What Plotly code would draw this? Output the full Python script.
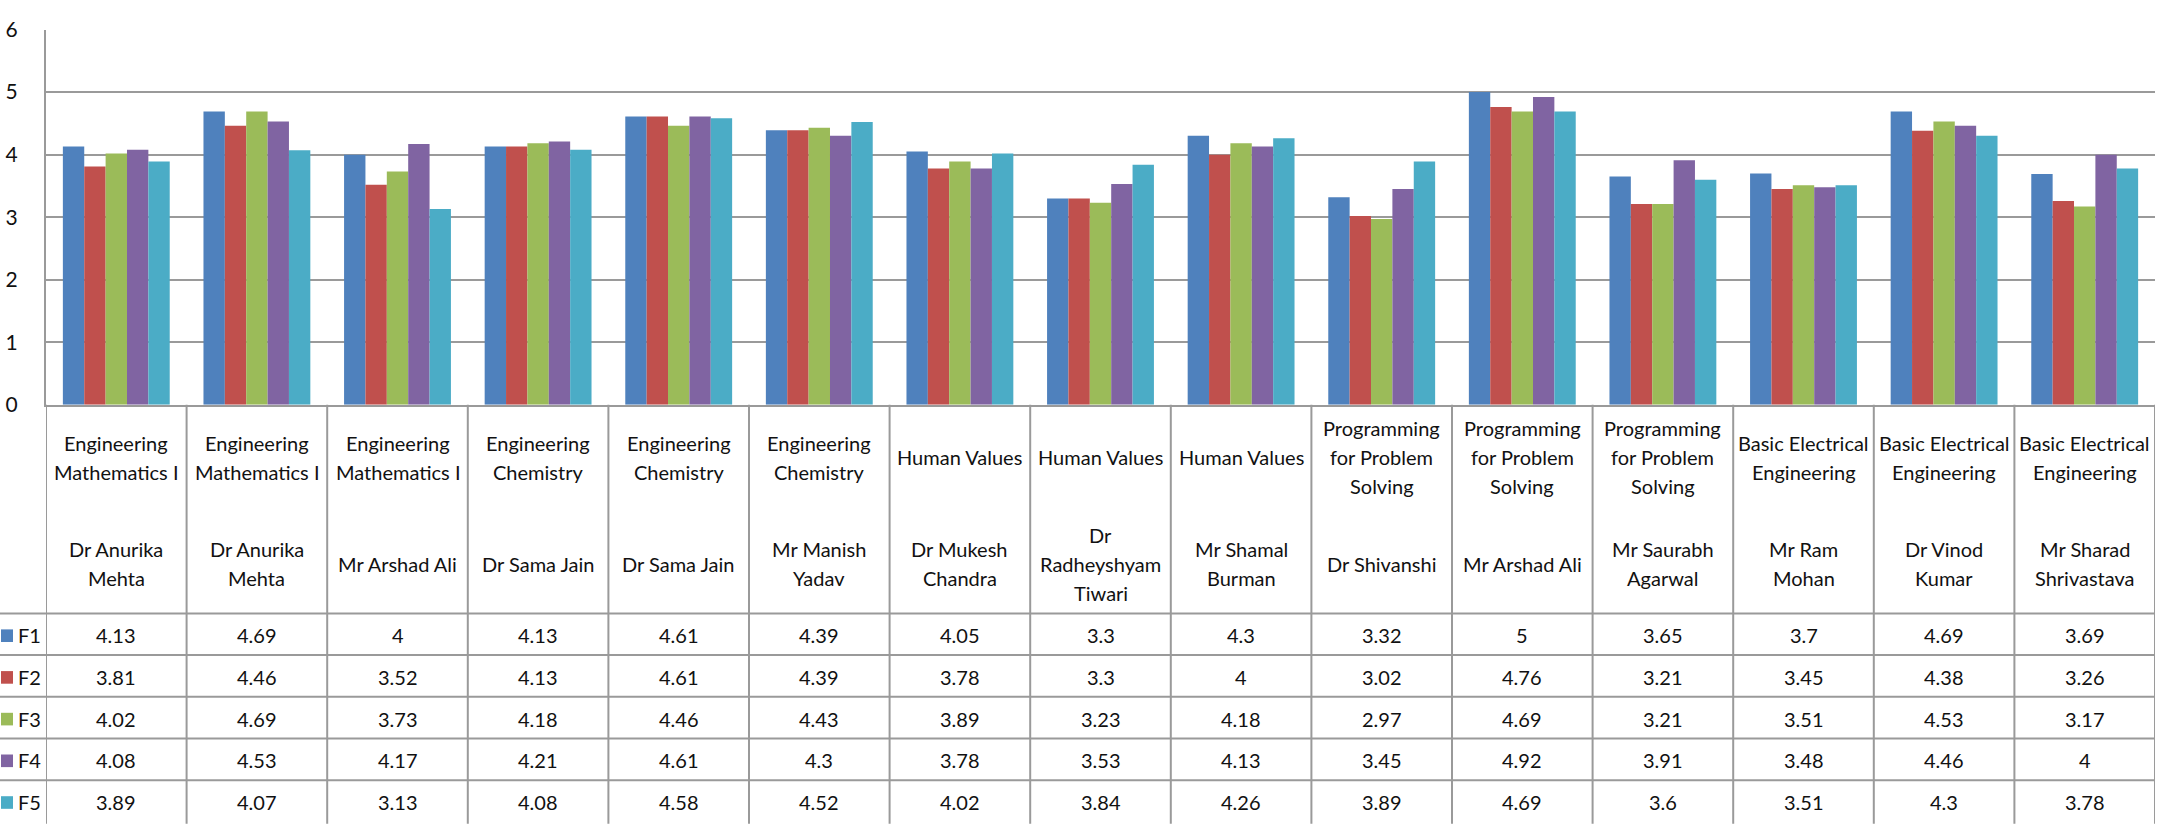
"""课程反馈评分 - 柱状图 + 数据表"""
import plotly.graph_objects as go

subjects = [
    "Engineering\nMathematics I", "Engineering\nMathematics I", "Engineering\nMathematics I",
    "Engineering\nChemistry", "Engineering\nChemistry", "Engineering\nChemistry",
    "Human Values", "Human Values", "Human Values",
    "Programming\nfor Problem\nSolving", "Programming\nfor Problem\nSolving",
    "Programming\nfor Problem\nSolving",
    "Basic Electrical\nEngineering", "Basic Electrical\nEngineering",
    "Basic Electrical\nEngineering",
]
teachers = [
    "Dr Anurika\nMehta", "Dr Anurika\nMehta", "Mr Arshad Ali",
    "Dr Sama Jain", "Dr Sama Jain", "Mr Manish\nYadav",
    "Dr Mukesh\nChandra", "Dr\nRadheyshyam\nTiwari", "Mr Shamal\nBurman",
    "Dr Shivanshi", "Mr Arshad Ali", "Mr Saurabh\nAgarwal",
    "Mr Ram\nMohan", "Dr Vinod\nKumar", "Mr Sharad\nShrivastava",
]
series_names = ["F1", "F2", "F3", "F4", "F5"]
f1 = [4.13, 4.69, 4, 4.13, 4.61, 4.39, 4.05, 3.3, 4.3, 3.32, 5, 3.65, 3.7, 4.69, 3.69]
f2 = [3.81, 4.46, 3.52, 4.13, 4.61, 4.39, 3.78, 3.3, 4, 3.02, 4.76, 3.21, 3.45, 4.38, 3.26]
f3 = [4.02, 4.69, 3.73, 4.18, 4.46, 4.43, 3.89, 3.23, 4.18, 2.97, 4.69, 3.21, 3.51, 4.53, 3.17]
f4 = [4.08, 4.53, 4.17, 4.21, 4.61, 4.3, 3.78, 3.53, 4.13, 3.45, 4.92, 3.91, 3.48, 4.46, 4]
f5 = [3.89, 4.07, 3.13, 4.08, 4.58, 4.52, 4.02, 3.84, 4.26, 3.89, 4.69, 3.6, 3.51, 4.3, 3.78]
y_ticks = [0, 1, 2, 3, 4, 5, 6]

COLORS = ["#4F81BD", "#C0504D", "#9BBB59", "#8064A2", "#4BACC6"]
GRID = "#9a9a9a"
FONT = "Lato, 'Liberation Sans', sans-serif"
TXT = "#111111"

W, H = 2161, 830
PLOT_L, PLOT_R = 46, 2155
PLOT_T, PLOT_B = 16, 403
HEAD_B = 618
ROW_H = 43
LINE_H = 30
SUBJ_Y, NAME_Y = 457, 567


def px(x):
    return x / W


def py(y):
    return 1 - y / H


all_series = [f1, f2, f3, f4, f5]
idx = list(range(len(subjects)))

fig = go.Figure()
for name, vals, col in zip(series_names, all_series, COLORS):
    fig.add_trace(go.Bar(x=idx, y=vals, name=name, marker_color=col,
                         marker_line=dict(width=0)))

shapes = []
annotations = []


def add_lines(i, text, yc):
    lines = text.split("\n")
    n = len(lines)
    for k, ln in enumerate(lines):
        y = yc + (k - (n - 1) / 2) * LINE_H
        annotations.append(dict(x=i, xref="x", y=py(y), yref="paper", text=ln,
                                showarrow=False, xanchor="center", yanchor="middle",
                                font=dict(family=FONT, size=20, color=TXT)))


# 表头
for i in idx:
    add_lines(i, subjects[i], SUBJ_Y)
    add_lines(i, teachers[i], NAME_Y)

# 数据行
for r, (name, vals, col) in enumerate(zip(series_names, all_series, COLORS)):
    yc = HEAD_B + ROW_H * r + ROW_H / 2 + 1
    for i, v in enumerate(vals):
        annotations.append(dict(x=i, xref="x", y=py(yc), yref="paper", text=f"{v:g}",
                                showarrow=False, xanchor="center", yanchor="middle",
                                font=dict(family=FONT, size=20, color=TXT)))
    shapes.append(dict(type="rect", xref="paper", yref="paper",
                       x0=px(1), x1=px(13), y0=py(yc - 6), y1=py(yc + 7),
                       fillcolor=col, line=dict(width=0)))
    annotations.append(dict(x=px(16), xref="paper", y=py(yc), yref="paper", text=name,
                            showarrow=False, xanchor="left", yanchor="middle",
                            font=dict(family=FONT, size=20, color=TXT)))

# 表格线
for k in range(len(subjects) + 1):
    shapes.append(dict(type="line", xref="x", yref="paper", x0=k - 0.5, x1=k - 0.5,
                       y0=py(PLOT_B), y1=py(H + 5), line=dict(color=GRID, width=2)))
for r in range(len(series_names)):
    y = HEAD_B + ROW_H * r
    shapes.append(dict(type="line", xref="paper", yref="paper", x0=0, x1=px(PLOT_R),
                       y0=py(y), y1=py(y), line=dict(color=GRID, width=2)))

fig.update_layout(
    width=W, height=H,
    margin=dict(l=0, r=0, t=0, b=0),
    paper_bgcolor="white", plot_bgcolor="white",
    showlegend=False,
    barmode="group", bargap=0.24, bargroupgap=0,
    shapes=shapes, annotations=annotations,
    xaxis=dict(domain=[px(PLOT_L), px(PLOT_R)], range=[-0.5, len(subjects) - 0.5],
               showticklabels=False, showgrid=False, zeroline=False,
               showline=True, linecolor=GRID, linewidth=2),
    yaxis=dict(domain=[py(PLOT_B), py(PLOT_T)], range=[0, 6], tickvals=y_ticks,
               showgrid=True, gridcolor=GRID, gridwidth=1.5, zeroline=False,
               showline=True, linecolor=GRID, linewidth=2, ticks="",
               ticklabelstandoff=22,
               tickfont=dict(family=FONT, size=21, color=TXT)),
)

fig.write_html("out.html", config={"displayModeBar": False},
               post_script="document.body.style.margin='0';"
               "document.body.style.overflow='hidden';")
